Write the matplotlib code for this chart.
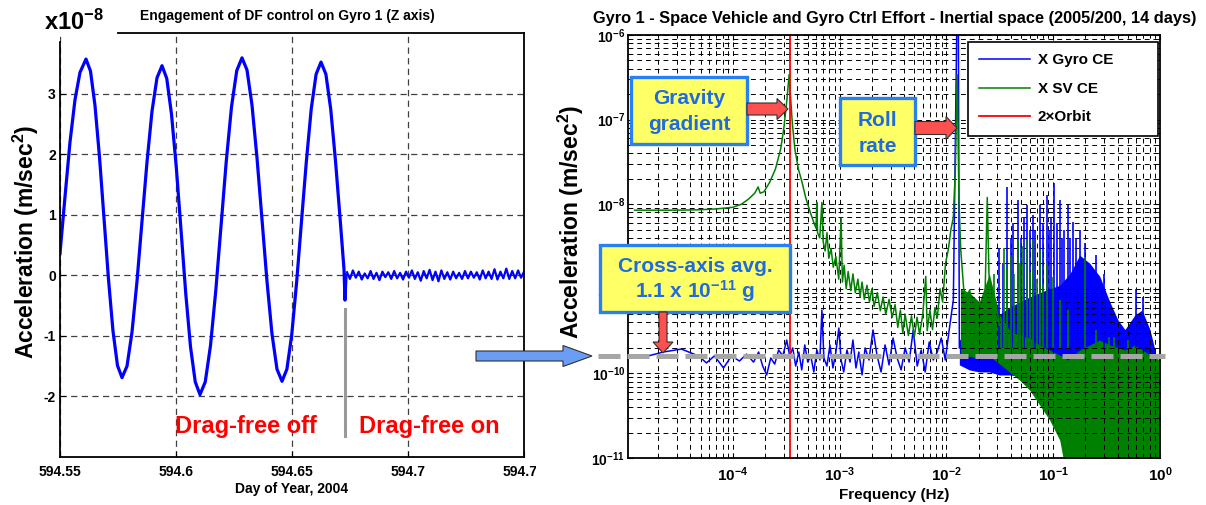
"""
Drag-free engagement on gyro 1: time trace (left) and control-effort spectra (right).
Writes out.png.
"""
import numpy as np
import matplotlib
matplotlib.use("Agg")
import matplotlib.pyplot as plt
from matplotlib.patches import Rectangle, FancyArrow
from matplotlib.transforms import Bbox, TransformedBbox
from matplotlib.ticker import LogLocator, FixedLocator, FuncFormatter, NullFormatter

plt.rcParams.update({
    "font.family": ["Liberation Sans", "DejaVu Sans"],
    "font.weight": "bold",
    "mathtext.fontset": "custom",
    "mathtext.rm": "Liberation Sans:bold",
    "mathtext.bf": "Liberation Sans:bold",
    "mathtext.it": "Liberation Sans:bold",
    "axes.linewidth": 1.3,
})

W, H = 1206, 505

# ---------------- left panel: Z-axis acceleration, units of 1e-8 m/s^2
DOY0 = 594.55
T_ENGAGE = 594.6728
osc_dt = [0.0, 0.00216, 0.00431, 0.00647, 0.00862, 0.01121, 0.01315, 0.01509,
          0.01703, 0.01897, 0.02091, 0.02284, 0.02478, 0.02672, 0.02888, 0.03103,
          0.03319, 0.03534, 0.0375, 0.03966, 0.04181, 0.04397, 0.04601, 0.04806,
          0.05011, 0.05216, 0.0542, 0.05625, 0.0583, 0.06034, 0.06261, 0.06487,
          0.06713, 0.0694, 0.07166, 0.07392, 0.07619, 0.07845, 0.0806, 0.08276,
          0.08491, 0.08707, 0.08922, 0.09138, 0.09353, 0.09569, 0.0978, 0.09989,
          0.10198, 0.10409, 0.10621, 0.1083, 0.11039, 0.1125, 0.11461, 0.1167,
          0.11879, 0.12091, 0.12241, 0.12284, 0.12328]
osc_acc = [0.36, 1.3, 2.2, 2.9, 3.35, 3.57, 3.37, 2.80, 1.95, 0.94,
           -0.07, -0.92, -1.49, -1.69, -1.50, -0.94, -0.10, 0.89, 1.87, 2.71,
           3.26, 3.46, 3.25, 2.66, 1.79, 0.75, -0.30, -1.18, -1.76, -1.97,
           -1.76, -1.16, -0.26, 0.81, 1.88, 2.78, 3.38, 3.59, 3.39, 2.81,
           1.94, 0.92, -0.10, -0.97, -1.55, -1.75, -1.55, -0.98, -0.12, 0.89,
           1.89, 2.75, 3.32, 3.52, 3.32, 2.74, 1.87, 0.85, 0.10, -0.41, 0.0]
df_on_acc = [0.05, -0.06, 0.08, -0.04, 0.06, -0.07, 0.03, -0.05, 0.07, -0.06,
             0.04, -0.08, 0.06, -0.03, 0.05, -0.06, 0.07, -0.05, 0.04, -0.07,
             0.06, -0.04, 0.08, -0.06, 0.05, -0.09, 0.07, -0.05, 0.09, -0.08,
             0.06, -0.10, 0.08, -0.06, 0.05, -0.07, 0.06, -0.05, 0.04, -0.06,
             0.07, -0.05, 0.06, -0.04, 0.05, -0.07, 0.08, -0.05, 0.06, -0.06,
             0.10, -0.07, 0.06, -0.05, 0.11, -0.06, 0.07, -0.05, 0.08, -0.04, 0.06]
df_on_span = (0.1237, 0.2)
x_ticks = [594.55, 594.6, 594.65, 594.7, 594.75]
x_ticklabels = ["594.55", "594.6", "594.65", "594.7", "594.75"]
y_ticks = [-2, -1, 0, 1, 2, 3]

# ---------------- right panel: control effort spectra (m/s^2)
freq_decades = [1e-4, 1e-3, 1e-2, 1e-1, 1.0]
accel_decades = [1e-11, 1e-10, 1e-9, 1e-8, 1e-7, 1e-6]

gyro_f = [1.61e-5, 2.23e-5, 3.29e-5, 4.75e-5, 5.65e-5, 6.71e-5, 8.16e-5, 9.70e-5,
          1.15e-4, 1.34e-4, 1.56e-4, 1.74e-4, 1.90e-4, 2.07e-4, 2.26e-4, 2.46e-4,
          2.68e-4, 2.93e-4, 3.19e-4, 3.40e-4, 3.63e-4, 3.87e-4, 4.14e-4, 4.41e-4,
          4.71e-4, 5.02e-4, 5.36e-4, 5.72e-4, 6.11e-4, 6.52e-4, 6.81e-4, 7.11e-4,
          7.59e-4, 8.10e-4, 8.64e-4, 9.21e-4, 9.82e-4, 1.03e-3, 1.09e-3, 1.17e-3,
          1.25e-3, 1.33e-3, 1.42e-3, 1.51e-3, 1.62e-3, 1.73e-3, 1.88e-3, 2.05e-3,
          2.24e-3, 2.44e-3, 2.66e-3, 2.90e-3, 3.16e-3, 3.45e-3, 3.76e-3, 4.10e-3,
          4.47e-3, 4.88e-3, 5.32e-3, 5.80e-3, 6.32e-3, 6.89e-3, 7.52e-3, 8.20e-3,
          8.94e-3, 9.75e-3, 1.06e-2, 1.16e-2, 1.26e-2, 1.29e-2, 1.32e-2]
gyro_ce = [1.61e-10, 1.79e-10, 1.94e-10, 1.61e-10, 1.33e-10, 1.61e-10, 1.16e-10, 1.61e-10,
           1.40e-10, 1.69e-10, 1.36e-10, 1.79e-10, 1.22e-10, 0.96e-10, 1.52e-10, 1.29e-10,
           1.89e-10, 1.61e-10, 2.48e-10, 1.61e-10, 2.00e-10, 1.22e-10, 1.79e-10, 1.10e-10,
           2.17e-10, 1.36e-10, 1.61e-10, 1.04e-10, 1.89e-10, 1.44e-10, 5.61e-10, 1.52e-10,
           1.22e-10, 2.17e-10, 1.16e-10, 1.79e-10, 3.44e-10, 1.44e-10, 1.04e-10, 1.89e-10,
           1.36e-10, 2.48e-10, 1.16e-10, 1.79e-10, 0.96e-10, 2.00e-10, 1.44e-10, 3.26e-10,
           1.61e-10, 1.04e-10, 2.17e-10, 1.26e-10, 2.62e-10, 1.52e-10, 1.10e-10, 2.00e-10,
           1.36e-10, 3.26e-10, 1.22e-10, 1.89e-10, 1.04e-10, 2.35e-10, 1.44e-10, 1.79e-10,
           2.62e-10, 1.44e-10, 3.26e-10, 7.38e-10, 3.0e-6, 3.0e-6, 2.0e-10]
gyro_band_f = [0.0132, 0.0164, 0.0203, 0.0252, 0.0313, 0.0389, 0.0483, 0.06, 0.0745,
               0.0925, 0.115, 0.143, 0.177, 0.22, 0.273, 0.339, 0.403, 0.469, 0.582,
               0.678, 0.805, 0.897, 1.0]
gyro_band_hi = [2.48e-10, 3.0e-10, 3.3e-10, 3.8e-10, 5.0e-10, 6.0e-10, 7.0e-10,
                8.0e-10, 9.0e-10, 1.0e-9, 1.1e-9, 1.5e-9, 2.5e-9, 2.0e-9, 1.4e-9,
                7.0e-10, 4.3e-10, 3.3e-10, 4.9e-10, 5.6e-10, 3.3e-10, 1.9e-10, 8.4e-11]
gyro_band_lo = [1.26e-10, 1.10e-10, 1.04e-10, 1.04e-10, 9.58e-11, 9.58e-11, 9.3e-11,
                9.3e-11, 9.58e-11, 8.83e-11, 8.83e-11, 8.36e-11, 4.85e-11, 2.81e-11, 2.14e-11,
                1.87e-11, 1.63e-11, 1.63e-11, 1.43e-11, 1.33e-11, 1.33e-11, 1.24e-11, 1.18e-11]
gyro_spike_f = [0.0313, 0.034, 0.0372, 0.04, 0.042, 0.0463, 0.05, 0.053, 0.0562, 0.06,
                0.064, 0.068, 0.0745, 0.08, 0.0867, 0.092, 0.095, 0.101, 0.108, 0.115,
                0.12, 0.125, 0.137, 0.145, 0.152, 0.165, 0.177, 0.2, 0.25, 0.3, 0.6, 0.7]
gyro_spike_top = [3.0e-9, 2.0e-9, 1.6e-8, 4.0e-9, 6.0e-9, 1.12e-8, 4.0e-9, 7.0e-9, 9.8e-9,
                  5.0e-9, 7.45e-9, 5.0e-9, 9.8e-9, 6.0e-9, 1.28e-8, 5.0e-9, 7.0e-9, 1.78e-8,
                  6.0e-9, 1.12e-8, 4.0e-9, 5.0e-9, 9.8e-9, 4.0e-9, 6.16e-9, 4.0e-9, 4.96e-9,
                  3.5e-9, 2.5e-9, 1.5e-9, 1.0e-9, 8.0e-10]

sv_f = [1.2e-5, 2e-5, 3e-5, 5e-5, 7e-5, 1.0e-4, 1.2e-4, 1.4e-4, 1.6e-4, 1.72e-4,
        1.8e-4, 1.95e-4, 2.2e-4, 2.5e-4, 2.8e-4, 3.0e-4, 3.2e-4, 3.36e-4, 3.45e-4, 3.6e-4,
        3.8e-4, 4.1e-4, 4.4e-4, 4.8e-4, 5.3e-4, 5.8e-4, 6.0e-4, 6.1e-4, 6.2e-4, 6.5e-4,
        6.81e-4, 7.0e-4, 7.3e-4, 7.6e-4, 7.9e-4, 8.3e-4, 8.7e-4, 9.2e-4, 9.8e-4, 1.03e-3,
        1.06e-3, 1.1e-3, 1.15e-3, 1.2e-3, 1.27e-3, 1.33e-3, 1.4e-3, 1.48e-3, 1.55e-3, 1.62e-3,
        1.7e-3, 1.8e-3, 1.9e-3, 2.0e-3, 2.1e-3, 2.25e-3, 2.4e-3, 2.55e-3, 2.7e-3, 2.9e-3,
        3.1e-3, 3.3e-3, 3.5e-3, 3.7e-3, 3.9e-3, 4.1e-3, 4.4e-3, 4.7e-3, 5.0e-3, 5.3e-3,
        5.6e-3, 6.0e-3, 6.4e-3, 6.6e-3, 7.0e-3, 7.4e-3, 7.8e-3, 8.2e-3, 8.7e-3, 9.2e-3,
        9.8e-3, 1.04e-2, 1.10e-2, 1.16e-2, 1.21e-2, 1.26e-2, 1.31e-2, 1.36e-2, 1.45e-2, 1.55e-2,
        1.65e-2, 1.75e-2, 1.85e-2, 1.95e-2, 2.05e-2, 2.15e-2, 2.3e-2, 2.41e-2, 2.5e-2, 2.6e-2,
        2.75e-2, 2.9e-2, 3.13e-2]
sv_ce = [8.5e-9, 8.5e-9, 8.5e-9, 8.6e-9, 8.8e-9, 9.2e-9, 1.0e-8, 1.15e-8, 1.35e-8, 1.6e-8,
         1.35e-8, 1.4e-8, 1.8e-8, 2.6e-8, 4.5e-8, 8e-8, 1.7e-7, 3.4e-7, 2e-7, 9e-8,
         4.5e-8, 2.6e-8, 1.9e-8, 1.2e-8, 8e-9, 5.8e-9, 5.2e-9, 1.05e-8, 4.6e-9, 4.0e-9,
         1.05e-8, 3.6e-9, 2.8e-9, 4.6e-9, 2.3e-9, 3.0e-9, 1.8e-9, 2.4e-9, 1.3e-9, 6.9e-9,
         1.2e-9, 1.9e-9, 1.0e-9, 1.6e-9, 9.5e-10, 1.5e-9, 9e-10, 1.3e-9, 8e-10, 1.2e-9,
         7.5e-10, 1.1e-9, 7e-10, 1.0e-9, 6.2e-10, 9e-10, 5.5e-10, 8e-10, 5e-10, 7.5e-10,
         4.6e-10, 6.5e-10, 3.5e-10, 5.6e-10, 3.0e-10, 5.0e-10, 2.8e-10, 4.8e-10, 2.7e-10, 4.6e-10,
         2.9e-10, 5.0e-10, 1.4e-9, 3.2e-10, 5.6e-10, 3.3e-10, 6.0e-10, 4.5e-10, 1.0e-9, 7e-10,
         2.0e-9, 2.9e-9, 5e-9, 7e-9, 2.5e-8, 3.4e-7, 1.1e-8, 2.9e-9, 1.0e-9, 8e-10,
         9.7e-10, 6e-10, 7.5e-10, 5.6e-10, 7e-10, 6e-10, 9e-10, 1.2e-8, 1.5e-9, 7.4e-10,
         5e-10, 7e-10, 3.7e-10]
sv_band_f = [0.0135, 0.0164, 0.0203, 0.0252, 0.0313, 0.0389, 0.0483, 0.06, 0.0745,
             0.0925, 0.115, 0.137, 0.177, 0.22, 0.273, 0.339, 0.469, 0.582, 0.805, 1.0]
sv_band_hi = [1.0e-9, 9.0e-10, 7.0e-10, 1.5e-9, 5.0e-10, 3.26e-10, 2.84e-10, 2.62e-10,
              2.17e-10, 1.89e-10, 1.65e-10, 1.44e-10, 1.89e-10, 2.17e-10, 2.48e-10, 2.17e-10,
              1.89e-10, 2.17e-10, 1.65e-10, 1.44e-10]
sv_band_lo = [1.5e-10, 1.6e-10, 1.5e-10, 1.6e-10, 1.3e-10, 1.04e-10, 8.36e-11, 6.37e-11,
              4.23e-11, 2.81e-11, 1.63e-11, 5e-12, 5e-12, 5e-12, 5e-12, 5e-12, 5e-12, 5e-12,
              5e-12, 5e-12]
sv_spike_f = [0.028, 0.0345, 0.037, 0.04, 0.043, 0.0463, 0.049, 0.052, 0.0562, 0.06,
              0.064, 0.07, 0.0745, 0.08, 0.0867, 0.0985, 0.115, 0.137, 0.197, 0.25,
              0.33, 0.37, 0.5]
sv_spike_top = [1.5e-9, 3.0e-9, 1.8e-9, 2.5e-9, 1.5e-9, 3.77e-9, 2.0e-9, 3.2e-9, 3.77e-9,
                1.6e-9, 3.77e-9, 1.3e-9, 2.87e-9, 1.1e-9, 2.0e-9, 1.38e-9, 7.38e-10, 5.61e-10,
                2.4e-9, 3.26e-10, 2.7e-10, 2.7e-10, 2.48e-10]
SPIKE_BASE = 2.0e-10
F_2ORBIT = 3.4e-4
CROSS_AXIS_AVG = 1.6e-10          # 1.1e-11 g level marked across the plot
AVG_SPAN = (5.5e-6, 1.11)

BLUE, GREEN, RED = "#0000FF", "#008000", "#FF0000"
YELLOW, BOX_EDGE, BOX_TEXT = "#FFFF66", "#2A80F0", "#1F6BE0"


def fxy(px, py):
    return px / W, 1 - py / H


fig = plt.figure(figsize=(W / 100, H / 100), dpi=100)

# ---------------- left panel
ax1 = fig.add_axes([60 / W, 1 - 457 / H, 464 / W, 424 / H])
ax1.plot(DOY0 + np.array(osc_dt), osc_acc, color=BLUE, lw=2.3)
ax1.plot(DOY0 + np.linspace(*df_on_span, len(df_on_acc)), df_on_acc, color=BLUE, lw=1.6)
ax1.plot([T_ENGAGE, T_ENGAGE], [-0.55, -2.65], color="#9a9a9a", lw=2.2)
ax1.set_xlim(594.55, 594.75)
ax1.set_ylim(-3, 4)
ax1.set_xticks(x_ticks)
ax1.set_xticklabels(x_ticklabels)
ax1.set_yticks(y_ticks)
ax1.set_yticklabels([str(v) for v in y_ticks])
ax1.grid(True, ls=(0, (5, 3.5)), color="#404040", lw=0.9)
ax1.tick_params(direction="in", length=4, labelsize=10, pad=3)
ax1.tick_params(axis="x", pad=6)
ax1.spines["top"].set_bounds(594.575, 594.75)
ax1.spines["left"].set_bounds(-3, 3.85)
# last date label runs into the spectrum panel and is cut there
clip = TransformedBbox(Bbox([[0, 0], [5.36, 5.05]]), fig.dpi_scale_trans)
for lab in ax1.get_xticklabels():
    lab.set_clip_on(True)
    lab.set_clip_box(clip)

fig.text(*fxy(44, 22), r"x10$^{-8}$", fontsize=17, va="center", ha="left")
fig.text(*fxy(140, 16), "Engagement of DF control on Gyro 1 (Z axis)", fontsize=10,
         va="center", ha="left")
fig.text(*fxy(26, 242), r"Acceleration (m/sec$^2$)", fontsize=16.5, rotation=90,
         va="center", ha="center")
fig.text(*fxy(292, 489), "Day of Year, 2004", fontsize=10, va="center", ha="center")
fig.text(*fxy(246, 426), "Drag-free off", fontsize=17, color=RED, va="center", ha="center")
fig.text(*fxy(429, 426), "Drag-free on", fontsize=17, color=RED, va="center", ha="center")

# ---------------- right panel
ax2 = fig.add_axes([628 / W, 1 - 458 / H, 532 / W, 423 / H])
ax2.set_xscale("log")
ax2.set_yscale("log")
ax2.fill_between(gyro_band_f, gyro_band_lo, gyro_band_hi, color=BLUE, lw=0)
ax2.vlines(gyro_spike_f, SPIKE_BASE, gyro_spike_top, color=BLUE, lw=1.2)
h_gyro, = ax2.plot(gyro_f, gyro_ce, color=BLUE, lw=1.1, label="X Gyro CE")
h_sv, = ax2.plot(sv_f, sv_ce, color=GREEN, lw=1.1, label="X SV CE")
ax2.fill_between(sv_band_f, sv_band_lo, sv_band_hi, color=GREEN, lw=0)
ax2.vlines(sv_spike_f, SPIKE_BASE, sv_spike_top, color=GREEN, lw=1.2)
h_orb = ax2.axvline(F_2ORBIT, color=RED, lw=1.3, label="2×Orbit")
ax2.plot(AVG_SPAN, [CROSS_AXIS_AVG] * 2, color="#a6a6a6", lw=3.6, dashes=(4.4, 1.4),
         clip_on=False, zorder=6)
ax2.set_xlim(1.04e-5, 1)
ax2.set_ylim(1e-11, 1e-6)
decade_fmt = FuncFormatter(lambda v, p: r"$10^{%d}$" % round(np.log10(v)))
for axis, majors in ((ax2.xaxis, freq_decades), (ax2.yaxis, accel_decades)):
    axis.set_major_locator(FixedLocator(majors))
    axis.set_minor_locator(LogLocator(base=10, subs=np.arange(2, 10), numticks=12))
    axis.set_minor_formatter(NullFormatter())
    axis.set_major_formatter(decade_fmt)
ax2.grid(True, which="both", ls=(0, (5, 4)), color="k", lw=0.7)
ax2.tick_params(which="both", direction="in", top=True, right=True)
ax2.tick_params(axis="y", labelsize=10, pad=2)
ax2.tick_params(axis="x", labelsize=11, pad=5)
leg = ax2.legend(handles=[h_gyro, h_sv, h_orb], loc="upper left", mode="expand",
                 bbox_to_anchor=(968 / W, 1 - 137 / H, 190 / W, 95 / H),
                 bbox_transform=fig.transFigure, borderaxespad=0, fancybox=False,
                 framealpha=1, edgecolor="k", fontsize=11, handlelength=3.3,
                 handletextpad=0.5, labelspacing=0.95, borderpad=0.75)
leg.get_frame().set_linewidth(1.2)

fig.text(*fxy(593, 18), "Gyro 1 - Space Vehicle and Gyro Ctrl Effort - Inertial space "
         "(2005/200, 14 days)", fontsize=11.8, va="center", ha="left")
fig.text(*fxy(571, 222), r"Acceleration (m/sec$^2$)", fontsize=16.5, rotation=90,
         va="center", ha="center")
fig.text(*fxy(894, 495), "Frequency (Hz)", fontsize=11, va="center", ha="center")


# ---------------- callouts (pixel layout, drawn in inches)
def callout(x0, y0, x1, y1, lines, ys, fs):
    fig.add_artist(Rectangle((x0 / 100, (H - y1) / 100), (x1 - x0) / 100, (y1 - y0) / 100,
                             transform=fig.dpi_scale_trans, fc=YELLOW, ec=BOX_EDGE,
                             lw=2.4, zorder=5))
    for s, yy in zip(lines, ys):
        fig.text(*fxy((x0 + x1) / 2, yy), s, fontsize=fs, color=BOX_TEXT,
                 ha="center", va="center", zorder=6)


def arrow(x0, y0, x1, y1, width, head_w, head_l, fc):
    fig.add_artist(FancyArrow(x0 / 100, (H - y0) / 100, (x1 - x0) / 100, (y0 - y1) / 100,
                              width=width / 100, head_width=head_w / 100,
                              head_length=head_l / 100, length_includes_head=True,
                              transform=fig.dpi_scale_trans, fc=fc, ec="#303030",
                              lw=0.8, zorder=5))


callout(631, 77, 747, 144, ["Gravity", "gradient"], [98, 125], 15)
callout(840, 98, 915, 165, ["Roll", "rate"], [120, 146], 15)
callout(600, 245, 790, 312, ["Cross-axis avg.", r"1.1 x 10$^{-11}$ g"], [267, 291], 15)
arrow(747, 109, 788, 109, 12, 21, 11, "#FF5050")
arrow(915, 128, 957, 128, 13, 23, 11, "#FF5050")
arrow(663, 312, 663, 353, 8, 20, 11, "#FF5050")
arrow(476, 356, 592, 356, 10, 21, 29, "#6A9EF5")

fig.savefig("out.png", dpi=100)
